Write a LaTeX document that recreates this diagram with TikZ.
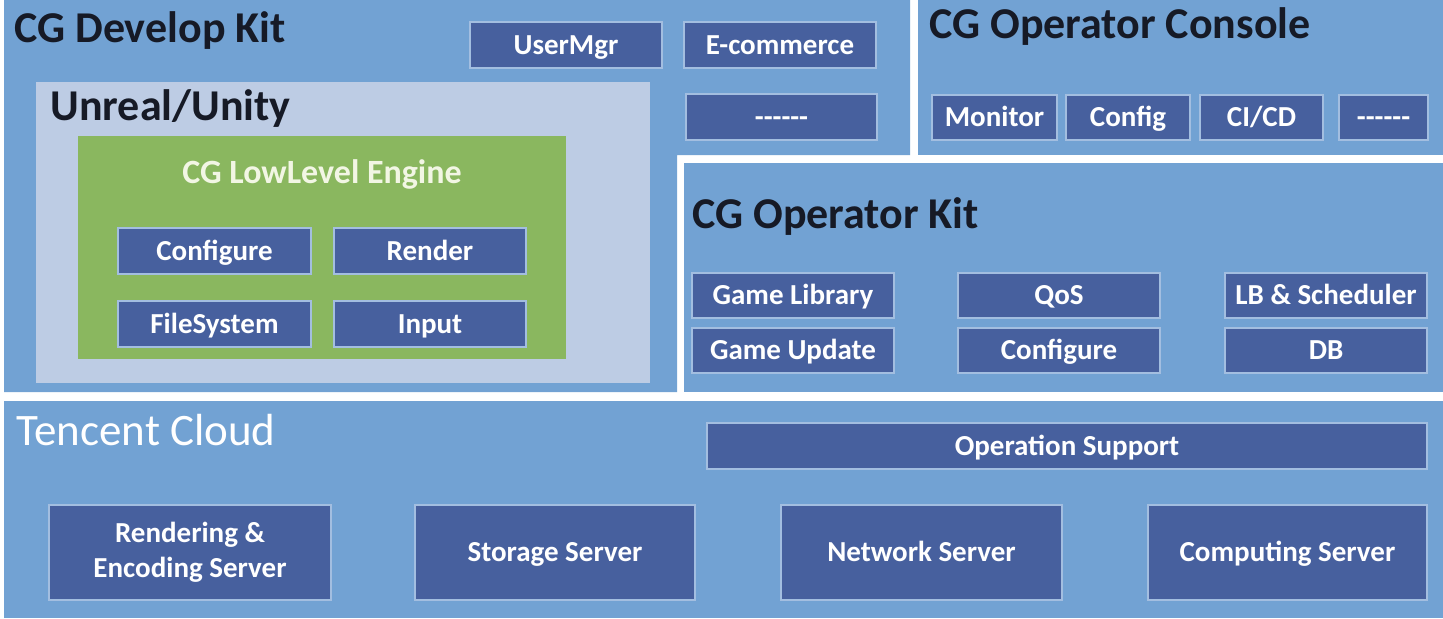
\documentclass[tikz,border=0pt]{standalone}
\usepackage{fontspec}
\setmainfont{Carlito}

\definecolor{panelblue}{HTML}{72A2D3}
\definecolor{boxblue}{HTML}{47609E}
\definecolor{unitybg}{HTML}{BDCCE4}
\definecolor{enginegreen}{HTML}{8AB75F}
\definecolor{titleink}{HTML}{161A26}
\definecolor{boxedge}{HTML}{A3BEE0}
\definecolor{enginetext}{HTML}{F2F6E4}

\begin{document}
\begin{tikzpicture}[x=0.5pt,y=-0.5pt,
  title/.style={anchor=base west,inner sep=0pt,text=titleink,font=\fontsize{22}{26}\selectfont\bfseries},
  block/.style 2 args={fill=boxblue,draw=boxedge,line width=0.6pt,inner sep=0pt,
    minimum width=#1,minimum height=#2,text=white,align=center,
    font=\fontsize{14.5}{17.5}\selectfont\bfseries},
  part/.style 2 args={block={#1}{#2},text height=12.3pt,text depth=3pt}]
\fill[white] (0,0) rectangle (1443,618);
\useasboundingbox (0,0) rectangle (1443,618);
% the four panels
\fill[panelblue] (4,0) -- (910,0) -- (910,155) -- (677,155) -- (677,392) -- (4,392) -- cycle;
\fill[panelblue] (918,0) rectangle (1443,155);
\fill[panelblue] (684,163) rectangle (1443,392);
\fill[panelblue] (4,401) rectangle (1443,618);
\fill[unitybg] (36,82) rectangle (650,383);
\fill[enginegreen] (78,136) rectangle (566,359);

% CG Develop Kit
\node[title] (devkit) at (14,42) {CG Develop Kit};
\node[part={96pt}{23pt}] (usermgr) at (566,45) {UserMgr};
\node[part={96pt}{23pt}] (ecommerce) at (780,45) {E-commerce};
\node[part={95.5pt}{23pt}] (devmore) at (781.5,117) {-{}-{}-{}-{}-{}-};
\node[title] (unity) at (50,120) {Unreal/Unity};
\node[anchor=base,inner sep=0pt,text=enginetext,font=\fontsize{17}{20}\selectfont\bfseries] (engine) at (322,183) {CG LowLevel Engine};
\node[part={96.5pt}{23pt}] (configure) at (214.5,251) {Configure};
\node[part={96pt}{23pt}] (render) at (430,251) {Render};
\node[part={96.5pt}{23pt}] (filesystem) at (214.5,324) {FileSystem};
\node[part={96pt}{23pt}] (input) at (430,324) {Input};

% CG Operator Console
\node[title] (console) at (929,38) {CG Operator Console};
\node[part={62.5pt}{22.5pt}] (monitor) at (994.5,117.5) {Monitor};
\node[part={62pt}{22.5pt}] (config) at (1128,117.5) {Config};
\node[part={61.5pt}{22.5pt}] (cicd) at (1261.5,117.5) {CI/CD};
\node[part={44.5pt}{22.5pt}] (consolemore) at (1383.5,117.5) {-{}-{}-{}-{}-{}-};

% CG Operator Kit
\node[title] (opkit) at (692,228) {CG Operator Kit};
\node[part={101pt}{22.5pt}] (gamelib) at (793,295.5) {Game Library};
\node[part={101pt}{22.5pt}] (gameupdate) at (793,350.5) {Game Update};
\node[part={101pt}{22.5pt}] (qos) at (1059,295.5) {QoS};
\node[part={101pt}{22.5pt}] (opconfigure) at (1059,350.5) {Configure};
\node[part={101pt}{22.5pt}] (scheduler) at (1326,295.5) {LB \& Scheduler};
\node[part={101pt}{22.5pt}] (db) at (1326,350.5) {DB};

% Tencent Cloud
\node[title,text=white,font=\fontsize{22.5}{26}\selectfont] (cloud) at (16,445) {Tencent Cloud};
\node[part={360pt}{23pt}] (opsupport) at (1067,446) {Operation Support};
\node[block={141pt}{47.5pt}] (encoding) at (190,552.5) {Rendering \&\\Encoding Server};
\node[part={140pt}{47.5pt}] (storage) at (555,552.5) {Storage Server};
\node[part={140.5pt}{47.5pt}] (network) at (921.5,552.5) {Network Server};
\node[part={139.5pt}{47.5pt}] (computing) at (1287.5,552.5) {Computing Server};
\end{tikzpicture}
\end{document}
